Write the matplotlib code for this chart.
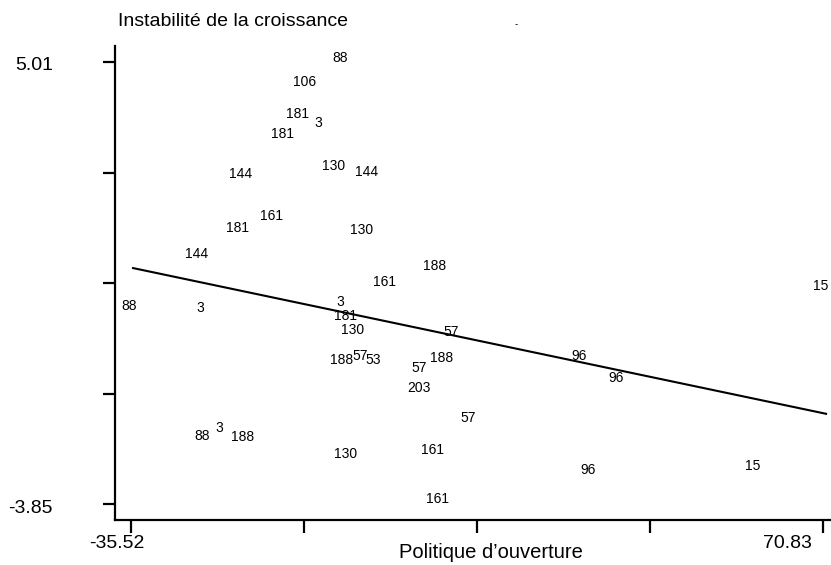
import matplotlib
matplotlib.use("Agg")
import matplotlib.pyplot as plt

plt.rcParams['font.family'] = ['Liberation Sans', 'DejaVu Sans']

# Data
labels = ["88", "106", "181", "3", "181", "144", "130", "144", "161", "181",
          "130", "144", "188", "161", "15", "88", "3", "3", "181", "130",
          "57", "188", "57", "53", "188", "57", "96", "96", "203", "57",
          "88", "3", "188", "130", "161", "96", "15", "161"]
x_vals = [-3.40, -8.78, -9.86, -6.78, -12.31, -18.62, -4.32, 0.75, -14.00, -19.08,
          -0.02, -25.38, 11.20, 3.51, 70.55, -35.83, -24.92, -3.40, -2.48, -1.40,
          13.66, -3.09, -0.33, 1.67, 12.28, 8.74, 33.33, 39.02, 8.74, 16.27,
          -24.61, -22.00, -18.31, -2.48, 10.74, 34.71, 60.07, 11.51]
y_vals = [5.09, 4.61, 3.97, 3.79, 3.57, 2.77, 2.93, 2.81, 1.92, 1.68,
          1.64, 1.16, 0.92, 0.60, 0.52, 0.12, 0.08, 0.20, -0.08, -0.36,
          -0.40, -0.96, -0.88, -0.96, -0.92, -1.12, -0.88, -1.32, -1.52, -2.12,
          -2.49, -2.33, -2.51, -2.85, -2.77, -3.17, -3.09, -3.75]

line_x = [-35.2, 71.3]
line_y = [0.88, -2.04]

xticks = [-35.52, -8.93, 17.66, 44.24, 70.83]
xtick_labels = ["-35.52", "", "", "", "70.83"]
yticks = [5.01, 2.795, 0.58, -1.635, -3.85]
ytick_labels = ["5.01", "", "", "", "-3.85"]

title = "Instabilité de la croissance"
xlabel = "Politique d\u2019ouverture"

fig = plt.figure(figsize=(8.31, 5.65), dpi=100)
W, H = 831, 565
ax = fig.add_axes([115 / W, (H - 520) / H, (831 - 115) / W, (520 - 46) / H])
ax.set_xlim(-37.98, 72.06)
ax.set_ylim(-4.168, 5.33)

for s in ["top", "right"]:
    ax.spines[s].set_visible(False)
for s in ["left", "bottom"]:
    ax.spines[s].set_linewidth(1.6)

ax.set_xticks(xticks)
ax.set_yticks(yticks)
ax.set_xticklabels([])
ax.set_yticklabels([])
ax.tick_params(axis="both", direction="out", length=9, width=1.6)

for xt, lab, off in zip(xticks, xtick_labels, [-14, 0, 0, 0, -36]):
    if lab:
        ax.annotate(lab, xy=(xt, 0), xycoords=ax.get_xaxis_transform(),
                    xytext=(off * 0.72, -23 * 0.72), textcoords="offset points",
                    ha="center", va="center", fontsize=14)
for yt, lab in zip(yticks, ytick_labels):
    if lab:
        ax.annotate(lab, xy=(0, yt), xycoords=ax.get_yaxis_transform(),
                    xytext=(-62 * 0.72, -4 * 0.72), textcoords="offset points",
                    ha="right", va="center", fontsize=14)

ax.plot(line_x, line_y, color="black", linewidth=1.5, clip_on=False)

for lab, xv, yv in zip(labels, x_vals, y_vals):
    ax.text(xv, yv, lab, ha="center", va="center", fontsize=10, clip_on=False)

fig.text(118 / W, 1 - 22 / H, title, ha="left", va="center", fontsize=14)
fig.text(491 / W, 1 - 552 / H, xlabel, ha="center", va="center", fontsize=14.5)
fig.text(516 / W, 1 - 24 / H, "-", ha="center", va="center", fontsize=7)

fig.savefig("out.png", dpi=100)
